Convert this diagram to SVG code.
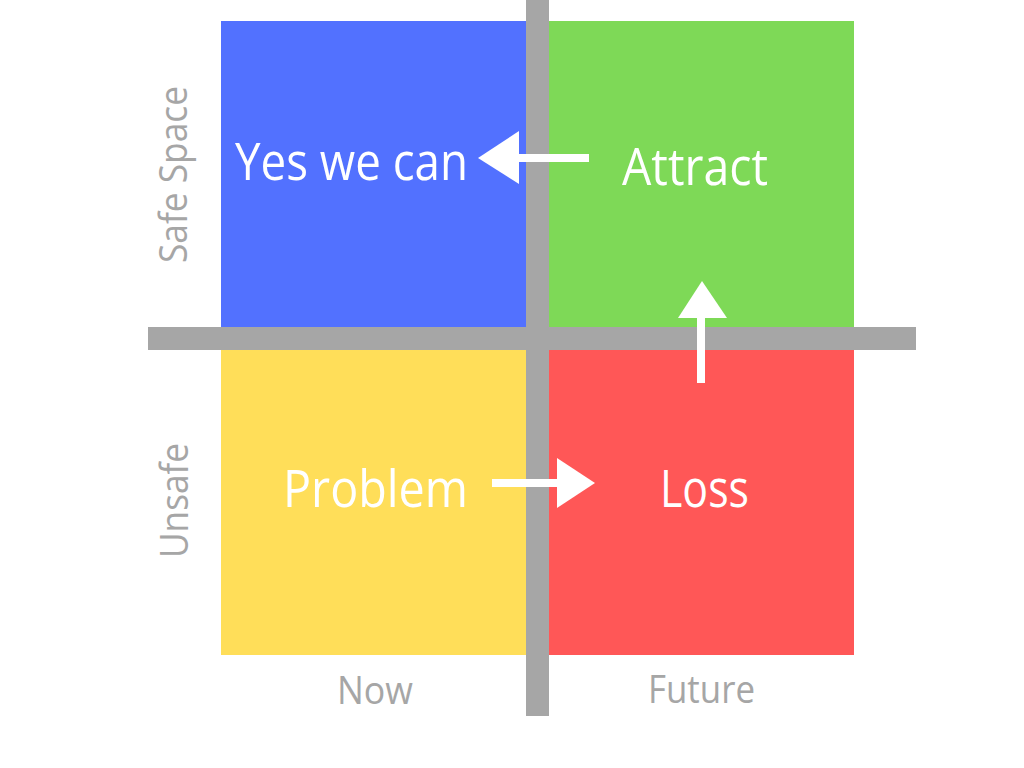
<svg xmlns="http://www.w3.org/2000/svg" width="1024" height="768" viewBox="0 0 1024 768">
<style>
.lbl{font-family:"Open Sans","Liberation Sans",sans-serif;fill:#ffffff;font-size:51px;text-anchor:middle}
.ax{font-family:"Open Sans","Liberation Sans",sans-serif;fill:#a6a6a6;font-size:38px;text-anchor:middle}
.bar{fill:#a6a6a6}
.arr{fill:#ffffff}
</style>
<rect width="1024" height="768" fill="#ffffff"/>
<g id="q-yes">
<rect x="221" y="21" width="305" height="306" fill="#5271ff"/>
<text class="lbl" x="351.5" y="180" textLength="233" lengthAdjust="spacingAndGlyphs">Yes we can</text>
</g>
<g id="q-attract">
<rect x="549" y="21" width="305" height="306" fill="#7ed957"/>
<text class="lbl" x="695" y="185" textLength="146" lengthAdjust="spacingAndGlyphs">Attract</text>
</g>
<g id="q-problem">
<rect x="221" y="350" width="305" height="305" fill="#ffde59"/>
<text class="lbl" x="375.5" y="507" textLength="185" lengthAdjust="spacingAndGlyphs">Problem</text>
</g>
<g id="q-loss">
<rect x="549" y="350" width="305" height="305" fill="#ff5757"/>
<text class="lbl" x="704.5" y="507" textLength="89" lengthAdjust="spacingAndGlyphs">Loss</text>
</g>
<g id="axes">
<rect class="bar" x="526" y="0" width="23" height="716"/>
<rect class="bar" x="148" y="327" width="768" height="23"/>
<text class="ax" transform="translate(187,174.5) rotate(-90)" textLength="177" lengthAdjust="spacingAndGlyphs">Safe Space</text>
<text class="ax" transform="translate(188,500.5) rotate(-90)" textLength="115" lengthAdjust="spacingAndGlyphs">Unsafe</text>
<text class="ax" x="375" y="704" textLength="76" lengthAdjust="spacingAndGlyphs">Now</text>
<text class="ax" x="701.5" y="703" textLength="107" lengthAdjust="spacingAndGlyphs">Future</text>
</g>
<g id="connectors">
<rect class="arr" x="518" y="154" width="71" height="8"/>
<polygon class="arr" points="478,158 519,131 519,184"/>
<rect class="arr" x="492" y="479" width="66" height="8"/>
<polygon class="arr" points="595,483 557,458 557,508"/>
<rect class="arr" x="697" y="316" width="8" height="67"/>
<polygon class="arr" points="702,281 678,318 727,318"/>
</g>
</svg>
